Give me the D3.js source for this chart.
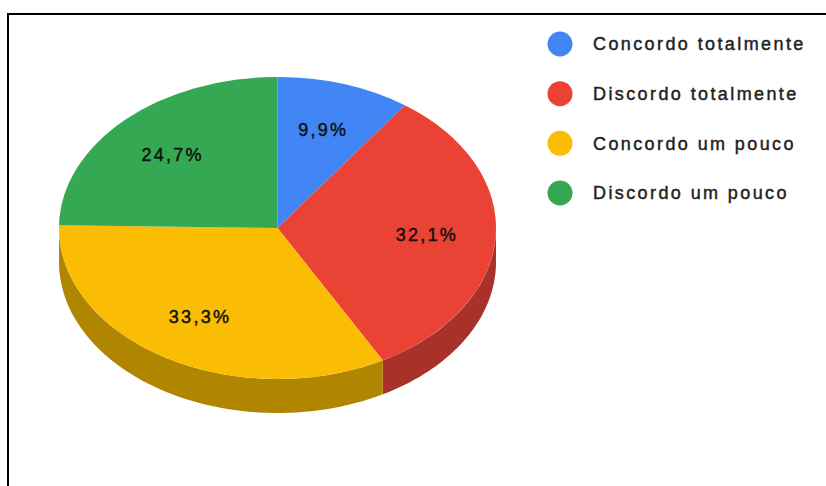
<!DOCTYPE html>
<html>
<head>
<meta charset="utf-8">
<script src="https://cdn.jsdelivr.net/npm/d3@7"></script>
<style>
  html, body { margin: 0; padding: 0; background: #fff; }
  svg { display: block; }
</style>
</head>
<body>
<svg id="chart" width="826" height="486"></svg>
<script>
// Survey answers and their shares (percent)
const categories = ["Concordo totalmente", "Discordo totalmente", "Concordo um pouco", "Discordo um pouco"];
const values = [9.9, 32.1, 33.3, 24.7];
const labels = ["9,9%", "32,1%", "33,3%", "24,7%"];
const topColors = ["#4285f4", "#ea4335", "#fbbc04", "#34a853"];
const sideColors = ["#2a56c6", "#a8322a", "#b08500", "#1f7a37"];

const svg = d3.select("#chart");

// Frame around the chart area (only top and left edges fall inside the view)
svg.append("path")
  .attr("d", "M8,486 L8,14 L826,14")
  .attr("fill", "none")
  .attr("stroke", "#000")
  .attr("stroke-width", 2);

// Tilted pie geometry
const cx = 277.5, cy = 228, rx = 218.5, ry = 151, depth = 34;

const pie = d3.pie().sort(null).value(d => d)(values);

// Point on the ellipse for an angle measured clockwise from 12 o'clock
const ex = a => cx + rx * Math.sin(a);
const ey = a => cy - ry * Math.cos(a);

const line = d3.line();

// Side walls: only the front half (angles PI/2 .. 3PI/2) is visible
const gSide = svg.append("g");
pie.forEach((s, i) => {
  const a0 = Math.max(s.startAngle, Math.PI / 2);
  const a1 = Math.min(s.endAngle, 3 * Math.PI / 2);
  if (a1 <= a0) return;
  const steps = d3.range(0, 61).map(k => a0 + (a1 - a0) * k / 60);
  const upper = steps.map(a => [ex(a), ey(a)]);
  const lower = steps.slice().reverse().map(a => [ex(a), ey(a) + depth]);
  gSide.append("path")
    .attr("d", line(upper.concat(lower)) + "Z")
    .attr("fill", sideColors[i]);
});

// Top face: circular arcs squashed vertically into the ellipse
const arc = d3.arc().innerRadius(0).outerRadius(rx);
const gTop = svg.append("g")
  .attr("transform", `translate(${cx},${cy}) scale(1,${ry / rx})`);
gTop.selectAll("path")
  .data(pie)
  .join("path")
  .attr("d", arc)
  .attr("fill", (d, i) => topColors[i]);

// Percentage labels at about two-thirds of the radius
const labelFrac = 0.685;
svg.append("g")
  .selectAll("text")
  .data(pie)
  .join("text")
  .attr("x", d => cx + rx * labelFrac * Math.sin((d.startAngle + d.endAngle) / 2))
  .attr("y", d => cy - ry * labelFrac * Math.cos((d.startAngle + d.endAngle) / 2))
  .attr("dy", "0.36em")
  .attr("text-anchor", "middle")
  .attr("font-family", "Arial, 'Liberation Sans', sans-serif")
  .attr("font-size", 18)
  .attr("letter-spacing", 2.3)
  .attr("fill", "#111")
  .attr("stroke", "#111")
  .attr("stroke-width", 0.45)
  .text((d, i) => labels[i]);

// Legend
const legendY = d3.scalePoint().domain(categories).range([44, 193]);
const legend = svg.append("g")
  .selectAll("g")
  .data(categories)
  .join("g")
  .attr("transform", d => `translate(560,${legendY(d)})`);
legend.append("circle")
  .attr("r", 12.5)
  .attr("fill", (d, i) => topColors[i]);
legend.append("text")
  .attr("x", 33)
  .attr("dy", "0.36em")
  .attr("font-family", "Arial, 'Liberation Sans', sans-serif")
  .attr("font-size", 18)
  .attr("letter-spacing", 2.4)
  .attr("fill", "#222")
  .attr("stroke", "#222")
  .attr("stroke-width", 0.45)
  .text(d => d);
</script>
</body>
</html>
